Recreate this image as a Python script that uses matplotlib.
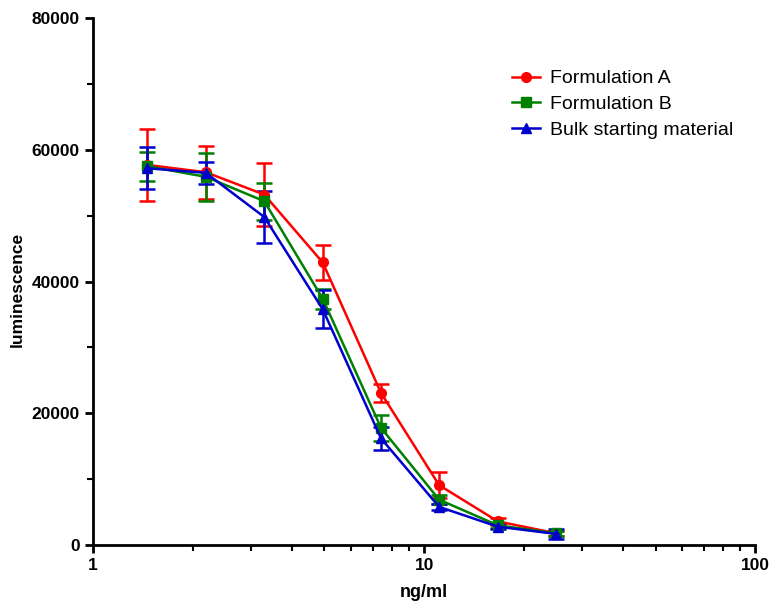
import matplotlib
matplotlib.use("Agg")
import matplotlib.pyplot as plt
from matplotlib.lines import Line2D
from matplotlib.ticker import FixedLocator, NullFormatter

plt.rcParams["font.family"] = ["Liberation Sans", "DejaVu Sans"]

conc = [1.46, 2.19, 3.29, 4.94, 7.41, 11.1, 16.7, 25.0]

form_a = [57700, 56600, 53200, 42900, 23100, 9100, 3600, 1800]
form_a_err = [5400, 4000, 4800, 2700, 1400, 2000, 500, 400]

form_b = [57500, 55900, 52200, 37400, 17800, 6900, 3000, 1800]
form_b_err = [2200, 3600, 2800, 1500, 2000, 700, 400, 400]

bulk = [57200, 56500, 49800, 35800, 16200, 5800, 2800, 1700]
bulk_err = [3200, 1700, 4000, 2900, 1700, 500, 400, 700]

series = [
    ("Formulation A", form_a, form_a_err, "#ff0000", "o"),
    ("Formulation B", form_b, form_b_err, "#008000", "s"),
    ("Bulk starting material", bulk, bulk_err, "#0000cc", "^"),
]

fig = plt.figure(figsize=(7.69, 6.01), dpi=100)
ax = fig.add_axes([0.121, 0.093, 0.861, 0.877])

handles = []
for label, vals, errs, color, marker in series:
    ax.errorbar(conc, vals, yerr=errs, color=color, marker=marker,
                markersize=7, linewidth=1.8, elinewidth=1.8, capsize=5.5,
                capthick=1.8)
    handles.append(Line2D([], [], color=color, marker=marker, markersize=7,
                          linewidth=1.8, label=label))

ax.set_xscale("log")
ax.set_xlim(1, 100)
ax.set_ylim(0, 80000)
ax.set_xticks([1, 10, 100])
ax.set_xticklabels(["1", "10", "100"])
ax.xaxis.set_minor_locator(FixedLocator([m * d for d in (1, 10) for m in range(2, 10)]))
ax.xaxis.set_minor_formatter(NullFormatter())
ax.set_yticks([0, 20000, 40000, 60000, 80000])
ax.yaxis.set_minor_locator(FixedLocator(range(0, 80001, 10000)))

for side in ("top", "right"):
    ax.spines[side].set_visible(False)
for side in ("left", "bottom"):
    ax.spines[side].set_linewidth(2)

ax.tick_params(which="major", direction="out", length=6, width=2, labelsize=12.5)
ax.tick_params(which="minor", direction="out", length=4, width=1.5)
for lab in ax.get_xticklabels() + ax.get_yticklabels():
    lab.set_fontweight("bold")

ax.set_xlabel("ng/ml", fontsize=13, fontweight="bold", labelpad=8)
ax.set_ylabel("luminescence", fontsize=12.5, fontweight="bold")
ax.yaxis.set_label_coords(-0.103, 0.486)

ax.legend(handles=handles, loc="upper left", bbox_to_anchor=(0.607, 0.935),
          frameon=False, fontsize=14, handlelength=1.4, handletextpad=0.55,
          labelspacing=0.42)

fig.savefig("out.png", dpi=100)
